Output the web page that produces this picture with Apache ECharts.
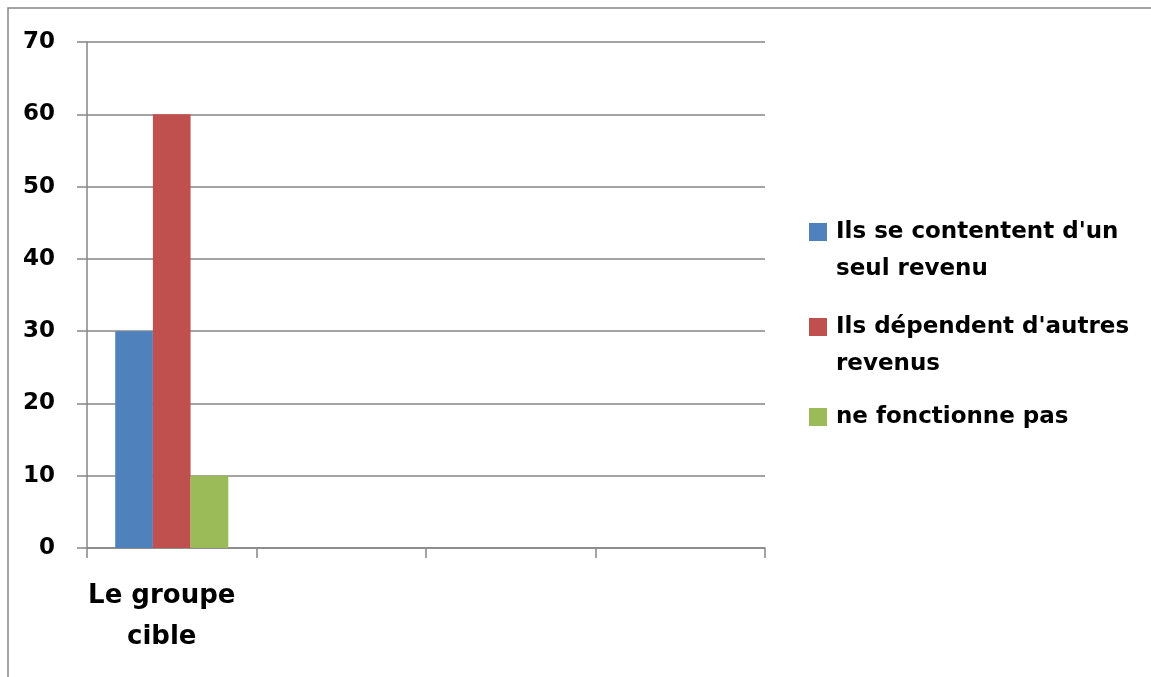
<!DOCTYPE html>
<html>
<head>
<meta charset="utf-8">
<script src="https://cdn.jsdelivr.net/npm/echarts@6/dist/echarts.min.js"></script>
<style>
html,body{margin:0;padding:0;background:#fff;}
#chart{width:1151px;height:677px;}
</style>
</head>
<body>
<div id="chart"></div>
<script>
const categories = ['Le groupe cible', '', '', ''];
const seriesNames = ["Ils se contentent d'un seul revenu", "Ils dépendent d'autres revenus", "ne fonctionne pas"];
const legendLabels = ["\nIls se contentent d'un\nseul revenu", "\nIls dépendent d'autres\nrevenus", "ne fonctionne pas"];
const contentValues = [30];
const dependentValues = [60];
const notWorkingValues = [10];
const yTicks = [0, 10, 20, 30, 40, 50, 60, 70];
const colors = ['#4F81BD', '#C0504D', '#9BBB59'];

const FONT = 'DejaVu Sans';
const GRAY = '#868686';

const chart = echarts.init(document.getElementById('chart'));
const textBase = {fontFamily: FONT, fontWeight: 'bold', color: '#000', fontSize: 23, lineHeight: 37, backgroundColor: 'rgba(0,0,0,0)'};

chart.setOption({
  animation: false,
  color: colors,
  graphic: [{
    type: 'rect', z: -1,
    shape: {x: 8, y: 8, width: 1300, height: 800},
    style: {fill: 'none', stroke: GRAY, lineWidth: 1.5}
  }],
  grid: {left: 87, right: 386, top: 42, bottom: 129, containLabel: false},
  legend: {
    orient: 'vertical',
    left: 809,
    top: 176.5,
    padding: 0,
    itemWidth: 18,
    itemHeight: 18,
    itemGap: -16,
    icon: 'rect',
    formatter: name => legendLabels[seriesNames.indexOf(name)],
    textStyle: textBase,
    data: [
      {name: seriesNames[0], textStyle: Object.assign({}, textBase, {padding: [0, 0, 0, 4]})},
      {name: seriesNames[1], textStyle: Object.assign({}, textBase, {padding: [0, 0, 0, 4]})},
      {name: seriesNames[2], textStyle: Object.assign({}, textBase, {padding: [32, 0, 32, 4]})}
    ]
  },
  xAxis: {
    type: 'category',
    data: categories,
    boundaryGap: true,
    axisLine: {lineStyle: {color: GRAY, width: 1.5}},
    axisTick: {show: true, length: 10, interval: 0, lineStyle: {color: GRAY, width: 1.5}},
    axisLabel: {
      interval: 0, margin: 28,
      fontFamily: FONT, fontWeight: 'bold', fontSize: 26, lineHeight: 41, color: '#000',
      padding: [0, 20, 0, 0],
      formatter: v => v.replace(/ (\S+)$/, '\n$1')
    },
    splitLine: {show: false}
  },
  yAxis: {
    type: 'value',
    min: yTicks[0],
    max: yTicks[yTicks.length - 1],
    interval: yTicks[1] - yTicks[0],
    axisLine: {show: true, lineStyle: {color: GRAY, width: 1.5}},
    axisTick: {show: true, length: 10, lineStyle: {color: GRAY, width: 1.5}},
    axisLabel: {margin: 32, fontFamily: FONT, fontWeight: 'bold', fontSize: 23, color: '#000'},
    splitLine: {show: true, lineStyle: {color: GRAY, width: 1.5}}
  },
  series: [
    {name: seriesNames[0], type: 'bar', data: contentValues, barGap: '0%', barCategoryGap: '33.3%'},
    {name: seriesNames[1], type: 'bar', data: dependentValues, barGap: '0%', barCategoryGap: '33.3%'},
    {name: seriesNames[2], type: 'bar', data: notWorkingValues, barGap: '0%', barCategoryGap: '33.3%'}
  ]
});
</script>
</body>
</html>
